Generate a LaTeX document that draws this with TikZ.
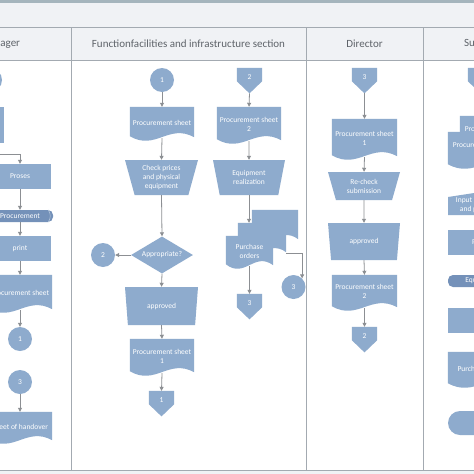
\documentclass[tikz,border=0pt]{standalone}
\usepackage{fontspec}
\setmainfont{Carlito}
\usetikzlibrary{shapes.geometric, arrows.meta, positioning}
\definecolor{Lane_Line}{HTML}{A3AAB1}
\definecolor{Head_Fill}{HTML}{F0F2F5}
\definecolor{Top_Strip}{HTML}{A5B5BD}
\definecolor{Shape_Fill}{HTML}{8EABCD}
\definecolor{Term_Fill}{HTML}{7491B9}
\definecolor{Conn_Gray}{HTML}{8C8F93}
\definecolor{Head_Text}{HTML}{5E6369}

\makeatletter
% document sheet with a wavy lower edge
\pgfdeclareshape{wavedoc}{
  \inheritsavedanchors[from=rectangle]
  \inheritanchorborder[from=rectangle]
  \inheritanchor[from=rectangle]{center}
  \inheritanchor[from=rectangle]{north}
  \inheritanchor[from=rectangle]{south}
  \inheritanchor[from=rectangle]{east}
  \inheritanchor[from=rectangle]{west}
  \inheritanchor[from=rectangle]{north east}
  \inheritanchor[from=rectangle]{north west}
  \inheritanchor[from=rectangle]{south east}
  \inheritanchor[from=rectangle]{south west}
  \backgroundpath{
    \southwest \edef\wdxa{\the\pgf@x}\edef\wdya{\the\pgf@y}
    \northeast \edef\wdxb{\the\pgf@x}\edef\wdyb{\the\pgf@y}
    \pgfmathsetmacro\wdw{\wdxb-\wdxa}
    \pgfpathmoveto{\pgfpoint{\wdxa}{\wdyb}}
    \pgfpathlineto{\pgfpoint{\wdxb}{\wdyb}}
    \pgfpathlineto{\pgfpoint{\wdxb}{\wdya+1pt}}
    \pgfpathcurveto{\pgfpoint{\wdxb-0.4*\wdw pt}{\wdya+15pt}}
                   {\pgfpoint{\wdxa+0.4*\wdw pt}{\wdya-13pt}}
                   {\pgfpoint{\wdxa}{\wdya+2pt}}
    \pgfpathclose
  }
}
% off-page reference, tip pointing down
\pgfdeclareshape{offpage}{
  \inheritsavedanchors[from=rectangle]
  \inheritanchorborder[from=rectangle]
  \inheritanchor[from=rectangle]{center}
  \inheritanchor[from=rectangle]{north}
  \inheritanchor[from=rectangle]{east}
  \inheritanchor[from=rectangle]{west}
  \inheritanchor[from=rectangle]{north east}
  \inheritanchor[from=rectangle]{north west}
  \anchor{south}{
    \southwest \pgf@xa=\pgf@x \pgf@ya=\pgf@y
    \northeast \pgf@xb=\pgf@x
    \pgf@xc=\pgf@xb \advance\pgf@xc by -\pgf@xa
    \pgf@x=.5\pgf@xb \advance\pgf@x by .5\pgf@xa
    \pgf@y=\pgf@ya \advance\pgf@y by -.48\pgf@xc
  }
  \backgroundpath{
    \southwest \edef\opxa{\the\pgf@x}\edef\opya{\the\pgf@y}
    \northeast \edef\opxb{\the\pgf@x}\edef\opyb{\the\pgf@y}
    \pgfmathsetmacro\opxm{(\opxa+\opxb)/2}
    \pgfmathsetmacro\opyt{\opya-0.48*(\opxb-\opxa)}
    \pgfpathmoveto{\pgfpoint{\opxa}{\opyb}}
    \pgfpathlineto{\pgfpoint{\opxb}{\opyb}}
    \pgfpathlineto{\pgfpoint{\opxb}{\opya}}
    \pgfpathlineto{\pgfpoint{\opxm pt}{\opyt pt}}
    \pgfpathlineto{\pgfpoint{\opxa}{\opya}}
    \pgfpathclose
  }
}
\makeatother

\begin{document}
\begin{tikzpicture}[x=1pt, y=-1pt,
    conn/.style={draw=Conn_Gray, line width=0.8pt, -{Triangle[length=4pt, width=4pt]}},
    lane/.style={draw=Lane_Line, line width=0.9pt},
    laneHead/.style={text=Head_Text, font=\fontsize{11}{13}\selectfont},
    shapeText/.style={text=white, font=\fontsize{7.5}{9}\selectfont, align=center, inner sep=1pt},
    procBox/.style={shapeText, rectangle, fill=Shape_Fill, minimum width=62pt, minimum height=25pt},
    termBox/.style={shapeText, rectangle, rounded corners=5pt, fill=Term_Fill, minimum width=66pt, minimum height=12pt},
    docBox/.style={shapeText, shape=wavedoc, fill=Shape_Fill, minimum width=64pt},
    manOp/.style={shapeText, trapezium, trapezium stretches body, fill=Shape_Fill, minimum width=73pt},
    decision/.style={shapeText, diamond, aspect=1.7, fill=Shape_Fill, minimum width=62pt, minimum height=37pt},
    connCircle/.style={shapeText, circle, fill=Shape_Fill, minimum size=24pt},
    offPage/.style={shapeText, shape=offpage, fill=Shape_Fill, minimum width=25pt, minimum height=13pt, inner sep=0pt, text height=10pt}
]
    % Page and swimlanes
    \useasboundingbox (0,0) rectangle (474,474);
    \clip (0,0) rectangle (474,474);
    \fill[white] (0,0) rectangle (474,474);
    \fill[Head_Fill] (0,0) rectangle (474,60);
    \fill[Top_Strip] (0,0) rectangle (474,2.5);
    \fill[Head_Fill] (0,470) rectangle (474,474);
    \draw[lane] (0,27) -- (474,27);
    \draw[lane] (0,60) -- (474,60);
    \draw[lane] (0,470) -- (474,470);
    \foreach \x in {71,306,423} {
        \draw[lane] (\x,27) -- (\x,470);
    }

    % Lane headers
    \node[laneHead] (hManager) at (0,43.5) {Manager};
    \node[laneHead] (hFacility) at (188.5,43.5) {Functionfacilities and infrastructure section};
    \node[laneHead] (hDirector) at (364.5,43.5) {Director};
    \node[laneHead] (hSupplier) at (482.5,43.5) {Supplier};

    % Manager
    \node[connCircle] (mStart) at (-10,80) {};
    \node[procBox, minimum height=36pt] (mBox) at (-27,125) {};
    \node[procBox] (mProses) at (20,176.5) {Proses};
    \node[termBox] (mTerm) at (20,216) {Procurement};
    \draw[Shape_Fill!55!white, line width=0.4pt] ([xshift=-5pt]mTerm.north east) to[bend left=35] ([xshift=-5pt]mTerm.south east);
    \node[procBox] (mPrint) at (20,248.5) {print};
    \node[docBox, minimum height=35pt] (mSheet) at (20,292.5) {Procurement sheet};
    \node[connCircle] (mC1) at (20,339) {1};
    \node[connCircle] (mC3) at (20,382) {3};
    \node[docBox, minimum height=29pt] (mHand) at (20,426.5) {Sheet of handover};

    \draw[conn] (mBox.south) -- ++(0,11) -| (mProses.north);
    \draw[conn] (mProses.south) -- (mTerm.north);
    \draw[conn] (mTerm.south) -- (mPrint.north);
    \draw[conn] (mPrint.south) -- (mSheet.north);
    \draw[conn] (mSheet.south) -- (mC1.north);
    \draw[conn] (mC3.south) -- (mHand.north);

    % Facilities and infrastructure section, first column
    \node[connCircle] (fC1) at (162,80) {1};
    \node[docBox, minimum height=31pt] (fSheet) at (162,122.5) {Procurement sheet};
    \node[manOp, minimum height=35pt, trapezium left angle=110, trapezium right angle=110] (fCheck) at (161.5,177.5) {Check prices\\and physical\\equipment};
    \node[decision] (fAppr) at (162,255) {Appropriate?};
    \node[connCircle] (fC2) at (103,255) {2};
    \node[manOp, minimum height=38pt, trapezium left angle=109, trapezium right angle=109] (fApproved) at (161.5,306) {approved};
    \node[docBox, minimum height=34pt] (fSheet1) at (162,356) {Procurement sheet\\1};
    \node[offPage] (fOut1) at (161.5,397.5) {1};

    \draw[conn] (fC1.south) -- (fSheet.north);
    \draw[conn] (fSheet.south) -- (fCheck.north);
    \draw[conn] (fCheck.south) -- (fAppr.north);
    \draw[conn] (fAppr.west) -- (fC2.east);
    \draw[conn] (fAppr.south) -- (fApproved.north);
    \draw[conn] (fApproved.south) -- (fSheet1.north);
    \draw[conn] (fSheet1.south) -- (fOut1.north);

    % Facilities and infrastructure section, second column
    \node[offPage] (fIn2) at (249.5,74.5) {2};
    \node[docBox, minimum height=34pt] (fSheet2) at (249,124) {Procurement sheet\\2};
    \node[manOp, minimum width=72pt, minimum height=35pt, trapezium left angle=112.5, trapezium right angle=112.5] (fEquip) at (249,177.5) {Equipment\\realization};
    \node[docBox, minimum width=46pt, minimum height=30pt] (fOrder3) at (275,225) {};
    \node[docBox, minimum width=48pt, minimum height=30pt] (fOrder2) at (262,238) {};
    \node[docBox, minimum width=47pt, minimum height=30pt] (fOrder1) at (249.5,251) {Purchase\\orders};
    \node[offPage] (fOut3) at (249.5,300.5) {3};
    \node[connCircle] (fC3) at (293.5,287) {3};

    \draw[conn] (fIn2.south) -- (fSheet2.north);
    \draw[conn] (fSheet2.south) -- (fEquip.north);
    \draw[conn] (fEquip.south) -- (fEquip.south |- fOrder2.north);
    \draw[conn] (fOrder1.south) -- (fOut3.north);
    \draw[conn] (fOrder2.south east) -| (fC3.north east);

    % Director
    \node[offPage] (dIn3) at (364.5,74.5) {3};
    \node[docBox, minimum width=65pt, minimum height=38pt] (dSheet1) at (364.5,138) {Procurement sheet\\1};
    \node[manOp, minimum width=72pt, minimum height=28pt, trapezium left angle=116, trapezium right angle=116] (dRecheck) at (364,186) {Re-check\\submission};
    \node[manOp, minimum width=72pt, minimum height=37pt, trapezium left angle=110, trapezium right angle=110] (dApproved) at (364,241.5) {approved};
    \node[docBox, minimum width=65pt, minimum height=33pt] (dSheet2) at (364.5,291.5) {Procurement sheet\\2};
    \node[offPage] (dOut2) at (364.5,333.5) {2};

    \draw[conn] (dIn3.south) -- (dSheet1.north);
    \draw[conn] (dSheet1.south) -- (dRecheck.north);
    \draw[conn] (dRecheck.south) -- (dApproved.north);
    \draw[conn] (dApproved.south) -- (dSheet2.north);
    \draw[conn] (dSheet2.south) -- (dOut2.north);

    % Supplier
    \node[offPage] (sIn) at (480.5,74.5) {};
    \node[docBox, minimum width=68pt, minimum height=34pt] (sSheetB) at (494,133) {Procurement sheet\\2};
    \node[docBox, minimum width=68pt, minimum height=34pt] (sSheetA) at (482,149) {Procurement sheet\\1};
    \fill[Shape_Fill] (448,197) -- (520,186) -- (520,215) -- (448,215) -- cycle;
    \node[shapeText] (sInput) at (484,205) {Input specification\\and price quote};
    \node[procBox, minimum width=68pt] (sProses) at (482,242.5) {Proses};
    \node[termBox, minimum width=68pt] (sTerm) at (482,281) {Equipment};
    \node[procBox, minimum width=68pt] (sBox) at (482,320) {};
    \node[docBox, minimum width=68pt, minimum height=33pt] (sOrders) at (482,368.5) {Purchase orders};
    \node[procBox, minimum width=68pt, minimum height=24pt, rounded corners=12pt] (sEnd) at (482,423) {};
\end{tikzpicture}
\end{document}
